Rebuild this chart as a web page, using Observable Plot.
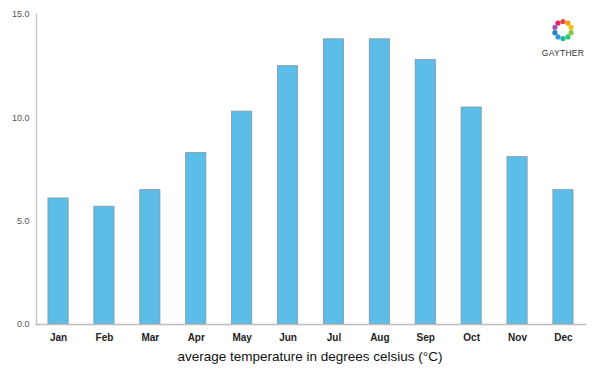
<!DOCTYPE html>
<html>
<head>
<meta charset="utf-8">
<script src="https://cdn.jsdelivr.net/npm/d3@7"></script>
<script src="https://cdn.jsdelivr.net/npm/@observablehq/plot@0.6"></script>
<style>
  body { margin: 0; background: #fff; font-family: "Liberation Sans", Arial, sans-serif; }
  #wrap { position: relative; width: 600px; height: 375px; }
  #caption { position: absolute; left: 0; width: 620px; top: 349px; text-align: center; font-size: 13.5px; color: #111; }
  #logo { position: absolute; left: 541px; top: 17px; width: 44px; text-align: center; }
  #logo span { display: block; font-size: 8.5px; color: #333; letter-spacing: 0.3px; margin-top: 1px; }
</style>
</head>
<body>
<div id="wrap">
  <div id="chart"></div>
  <div id="logo">
    <svg width="26" height="26" viewBox="-13 -13 26 26" id="ring"></svg>
    <span>GAYTHER</span>
  </div>
  <div id="caption">average temperature in degrees celsius (°C)</div>
</div>
<script>
const months = ["Jan","Feb","Mar","Apr","May","Jun","Jul","Aug","Sep","Oct","Nov","Dec"];
const temps = [6.1, 5.7, 6.5, 8.3, 10.3, 12.5, 13.8, 13.8, 12.8, 10.5, 8.1, 6.5];
const yTicks = [0, 5, 10, 15];

const data = months.map((m, i) => ({month: m, temp: temps[i]}));

const chart = Plot.plot({
  width: 600,
  height: 345,
  marginTop: 14,
  marginBottom: 21,
  marginLeft: 36,
  marginRight: 15,
  style: {fontFamily: "'Liberation Sans', Arial, sans-serif", background: "#fff"},
  x: {domain: months, paddingInner: 0.56, paddingOuter: 0.26, round: false, label: null},
  y: {domain: [0, 15], label: null},
  marks: [
    Plot.barY(data, {x: "month", y: "temp", fill: "#5bbde8", stroke: "#7f9aa6", strokeWidth: 0.8}),
    Plot.frame({anchor: "left", stroke: "#c8c8c8", strokeWidth: 1.5}),
    Plot.frame({anchor: "bottom", stroke: "#bdbdbd", strokeWidth: 1.5}),
    Plot.axisY(yTicks, {tickSize: 0, tickPadding: 7, tickFormat: d => d.toFixed(1), fontSize: 9, fill: "#555", label: null}),
    Plot.axisX({tickSize: 0, tickPadding: 9, fontSize: 10, fontWeight: "bold", fill: "#222", label: null})
  ]
});
document.getElementById("chart").appendChild(chart);

// decorative logo ring
const colors = ["#e84b3c","#f39c12","#f1c40f","#8bc34a","#2ecc71","#1abc9c","#3498db","#2980b9","#9b59b6","#e91e63"];
const ring = d3.select("#ring");
colors.forEach((c, i) => {
  const a = i / colors.length * 2 * Math.PI - Math.PI / 2;
  ring.append("circle").attr("cx", 8.5 * Math.cos(a)).attr("cy", 8.5 * Math.sin(a)).attr("r", 2.6).attr("fill", c);
});
</script>
</body>
</html>
